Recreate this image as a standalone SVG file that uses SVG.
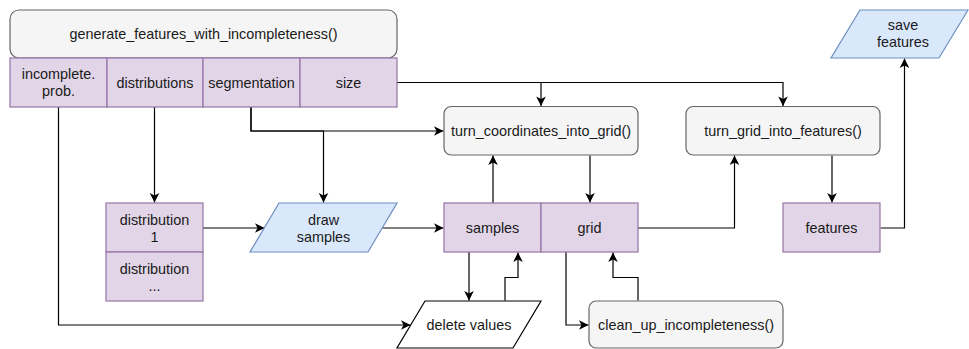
<svg xmlns="http://www.w3.org/2000/svg" width="969" height="349" viewBox="0 0 969 349">
  <defs>
    <style>
      text { font-family: "Liberation Sans", Arial, Helvetica, sans-serif; font-size: 14.4px; fill: #1a1a1a; text-anchor: middle; }
      .proc { fill: #f5f5f5; stroke: #666666; stroke-width: 1.2; }
      .data { fill: #e1d5e7; stroke: #9673a6; stroke-width: 1.2; }
      .io { fill: #dae8fc; stroke: #6c8ebf; stroke-width: 1.2; }
      .plain { fill: #ffffff; stroke: #000000; stroke-width: 1.2; }
      .edge { fill: none; stroke: #000000; stroke-width: 1.2; marker-end: url(#arrow); }
    </style>
    <marker id="arrow" markerUnits="userSpaceOnUse" viewBox="-10 -6 11 12" refX="0" refY="0" markerWidth="11" markerHeight="12" orient="auto">
      <path d="M-9.5,-4.8 L0,0 L-9.5,4.8 L-7,0 Z" fill="#000000"/>
    </marker>
  </defs>

  <!-- connectors -->
  <g id="connectors">
    <path class="edge" d="M397,82.5 H541 V106"/>
    <path class="edge" d="M397,82.5 H783 V106"/>
    <path class="edge" d="M251,107 V131 H443.5"/>
    <path class="edge" d="M251,107 V131 H323.5 V202.5"/>
    <path class="edge" d="M154.5,107 V202.5"/>
    <path class="edge" d="M58.5,107 V325 H410.5"/>
    <path class="edge" d="M203,228 H264.5"/>
    <path class="edge" d="M382.5,228 H443.5"/>
    <path class="edge" d="M493,203 V155.5"/>
    <path class="edge" d="M590,155.5 V202.5"/>
    <path class="edge" d="M638,228 H734.5 V155.5"/>
    <path class="edge" d="M832,155.5 V202.5"/>
    <path class="edge" d="M880.5,228 H904.5 V58.5"/>
    <path class="edge" d="M469,252 V300.5"/>
    <path class="edge" d="M505,300.5 V277.5 H518 V252.5"/>
    <path class="edge" d="M566,252 V325 H588.5"/>
    <path class="edge" d="M638,300.5 V277.5 H613 V252.5"/>
  </g>

  <!-- top entry block with its parameters -->
  <g id="generate">
    <rect class="proc" x="10" y="10" width="387" height="48" rx="9"/>
    <text x="203.5" y="39">generate_features_with_incompleteness()</text>
  </g>
  <g id="param-incomplete">
    <rect class="data" x="10" y="58" width="97" height="49"/>
    <text x="58.5" y="79">incomplete.</text>
    <text x="58.5" y="96">prob.</text>
  </g>
  <g id="param-distributions">
    <rect class="data" x="107" y="58" width="96" height="49"/>
    <text x="155" y="87.5">distributions</text>
  </g>
  <g id="param-segmentation">
    <rect class="data" x="203" y="58" width="97" height="49"/>
    <text x="251.5" y="87.5">segmentation</text>
  </g>
  <g id="param-size">
    <rect class="data" x="300" y="58" width="97" height="49"/>
    <text x="348.5" y="87.5">size</text>
  </g>

  <!-- distributions list -->
  <g id="distribution-1">
    <rect class="data" x="106" y="203" width="97" height="49"/>
    <text x="154.5" y="224.5">distribution</text>
    <text x="154.5" y="241.5">1</text>
  </g>
  <g id="distribution-n">
    <rect class="data" x="106" y="252" width="97" height="49"/>
    <text x="154.5" y="273.5">distribution</text>
    <text x="154.5" y="290.5">...</text>
  </g>

  <g id="draw-samples">
    <polygon class="io" points="279,203 397,203 368,252 250,252"/>
    <text x="323.5" y="224.5">draw</text>
    <text x="323.5" y="241.5">samples</text>
  </g>

  <g id="samples">
    <rect class="data" x="444" y="203" width="97" height="49"/>
    <text x="492.5" y="233">samples</text>
  </g>
  <g id="grid">
    <rect class="data" x="541" y="203" width="97" height="49"/>
    <text x="589.5" y="233">grid</text>
  </g>

  <g id="turn-coordinates">
    <rect class="proc" x="444" y="106.5" width="194" height="48.5" rx="7.2"/>
    <text x="541" y="136">turn_coordinates_into_grid()</text>
  </g>

  <g id="turn-grid">
    <rect class="proc" x="686" y="106.5" width="194" height="48.5" rx="7.2"/>
    <text x="783" y="136">turn_grid_into_features()</text>
  </g>

  <g id="features">
    <rect class="data" x="783" y="203" width="97" height="49"/>
    <text x="831.5" y="233">features</text>
  </g>

  <g id="save-features">
    <polygon class="io" points="860,10 968,10 939,58 831,58"/>
    <text x="903" y="30">save</text>
    <text x="903" y="47">features</text>
  </g>

  <g id="delete-values">
    <polygon class="plain" points="425,301 541,301 513,348 397,348"/>
    <text x="469" y="330">delete values</text>
  </g>

  <g id="clean-up">
    <rect class="proc" x="589" y="301" width="194" height="47" rx="7.2"/>
    <text x="686" y="330">clean_up_incompleteness()</text>
  </g>
</svg>
